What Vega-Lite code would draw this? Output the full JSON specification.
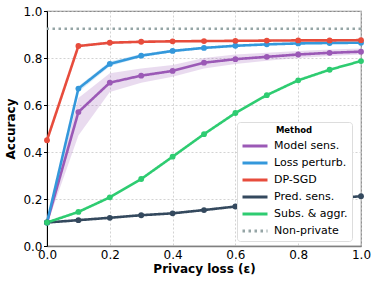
{
  "$schema": "https://vega.github.io/schema/vega-lite/v6.json",
  "width": 314,
  "height": 235,
  "autosize": {"type": "none"},
  "padding": {"left": 47, "top": 11, "right": 17, "bottom": 40},
  "background": "white",
  "config": {
    "font": "DejaVu Sans",
    "view": {"stroke": "#888888", "strokeWidth": 1.2},
    "axis": {
      "labelFont": "DejaVu Sans", "labelFontSize": 12, "labelColor": "black",
      "titleFont": "DejaVu Sans", "titleFontSize": 12, "titleFontWeight": "bold", "titleColor": "black",
      "grid": true, "gridColor": "#c8c8c8", "gridDash": [2, 2], "gridWidth": 0.8,
      "tickColor": "black", "tickSize": 3.5, "domainColor": "black"
    },
    "legend": {
      "labelFont": "DejaVu Sans", "labelFontSize": 11, "labelColor": "black",
      "titleFont": "DejaVu Sans", "titleFontSize": 8.5, "titleFontWeight": "bold", "titleColor": "black"
    }
  },
  "datasets": {
    "series": [
      {"method": "Model sens.", "eps": 0.0, "acc": 0.1, "lo": 0.09, "hi": 0.11},
      {"method": "Model sens.", "eps": 0.1, "acc": 0.57, "lo": 0.47, "hi": 0.63},
      {"method": "Model sens.", "eps": 0.2, "acc": 0.695, "lo": 0.655, "hi": 0.735},
      {"method": "Model sens.", "eps": 0.3, "acc": 0.725, "lo": 0.695, "hi": 0.755},
      {"method": "Model sens.", "eps": 0.4, "acc": 0.745, "lo": 0.72, "hi": 0.77},
      {"method": "Model sens.", "eps": 0.5, "acc": 0.78, "lo": 0.755, "hi": 0.8},
      {"method": "Model sens.", "eps": 0.6, "acc": 0.795, "lo": 0.775, "hi": 0.815},
      {"method": "Model sens.", "eps": 0.7, "acc": 0.805, "lo": 0.788, "hi": 0.822},
      {"method": "Model sens.", "eps": 0.8, "acc": 0.815, "lo": 0.8, "hi": 0.83},
      {"method": "Model sens.", "eps": 0.9, "acc": 0.822, "lo": 0.808, "hi": 0.836},
      {"method": "Model sens.", "eps": 1.0, "acc": 0.827, "lo": 0.815, "hi": 0.84},
      {"method": "Loss perturb.", "eps": 0.0, "acc": 0.1, "lo": 0.095, "hi": 0.105},
      {"method": "Loss perturb.", "eps": 0.1, "acc": 0.67, "lo": 0.655, "hi": 0.68},
      {"method": "Loss perturb.", "eps": 0.2, "acc": 0.775, "lo": 0.765, "hi": 0.785},
      {"method": "Loss perturb.", "eps": 0.3, "acc": 0.81, "lo": 0.803, "hi": 0.817},
      {"method": "Loss perturb.", "eps": 0.4, "acc": 0.83, "lo": 0.824, "hi": 0.836},
      {"method": "Loss perturb.", "eps": 0.5, "acc": 0.843, "lo": 0.838, "hi": 0.848},
      {"method": "Loss perturb.", "eps": 0.6, "acc": 0.852, "lo": 0.848, "hi": 0.856},
      {"method": "Loss perturb.", "eps": 0.7, "acc": 0.858, "lo": 0.854, "hi": 0.862},
      {"method": "Loss perturb.", "eps": 0.8, "acc": 0.862, "lo": 0.858, "hi": 0.866},
      {"method": "Loss perturb.", "eps": 0.9, "acc": 0.864, "lo": 0.86, "hi": 0.868},
      {"method": "Loss perturb.", "eps": 1.0, "acc": 0.865, "lo": 0.861, "hi": 0.869},
      {"method": "DP-SGD", "eps": 0.0, "acc": 0.45, "lo": 0.44, "hi": 0.46},
      {"method": "DP-SGD", "eps": 0.1, "acc": 0.851, "lo": 0.846, "hi": 0.856},
      {"method": "DP-SGD", "eps": 0.2, "acc": 0.865, "lo": 0.861, "hi": 0.869},
      {"method": "DP-SGD", "eps": 0.3, "acc": 0.869, "lo": 0.865, "hi": 0.873},
      {"method": "DP-SGD", "eps": 0.4, "acc": 0.871, "lo": 0.867, "hi": 0.875},
      {"method": "DP-SGD", "eps": 0.5, "acc": 0.872, "lo": 0.868, "hi": 0.876},
      {"method": "DP-SGD", "eps": 0.6, "acc": 0.873, "lo": 0.869, "hi": 0.877},
      {"method": "DP-SGD", "eps": 0.7, "acc": 0.874, "lo": 0.87, "hi": 0.878},
      {"method": "DP-SGD", "eps": 0.8, "acc": 0.875, "lo": 0.871, "hi": 0.879},
      {"method": "DP-SGD", "eps": 0.9, "acc": 0.875, "lo": 0.871, "hi": 0.879},
      {"method": "DP-SGD", "eps": 1.0, "acc": 0.876, "lo": 0.872, "hi": 0.88},
      {"method": "Pred. sens.", "eps": 0.0, "acc": 0.1, "lo": 0.095, "hi": 0.105},
      {"method": "Pred. sens.", "eps": 0.1, "acc": 0.11, "lo": 0.105, "hi": 0.115},
      {"method": "Pred. sens.", "eps": 0.2, "acc": 0.12, "lo": 0.115, "hi": 0.125},
      {"method": "Pred. sens.", "eps": 0.3, "acc": 0.131, "lo": 0.126, "hi": 0.136},
      {"method": "Pred. sens.", "eps": 0.4, "acc": 0.139, "lo": 0.134, "hi": 0.144},
      {"method": "Pred. sens.", "eps": 0.5, "acc": 0.153, "lo": 0.148, "hi": 0.158},
      {"method": "Pred. sens.", "eps": 0.6, "acc": 0.168, "lo": 0.163, "hi": 0.173},
      {"method": "Pred. sens.", "eps": 0.7, "acc": 0.18, "lo": 0.175, "hi": 0.185},
      {"method": "Pred. sens.", "eps": 0.8, "acc": 0.19, "lo": 0.185, "hi": 0.195},
      {"method": "Pred. sens.", "eps": 0.9, "acc": 0.2, "lo": 0.195, "hi": 0.205},
      {"method": "Pred. sens.", "eps": 1.0, "acc": 0.212, "lo": 0.207, "hi": 0.217},
      {"method": "Subs. & aggr.", "eps": 0.0, "acc": 0.1, "lo": 0.095, "hi": 0.105},
      {"method": "Subs. & aggr.", "eps": 0.1, "acc": 0.145, "lo": 0.14, "hi": 0.15},
      {"method": "Subs. & aggr.", "eps": 0.2, "acc": 0.207, "lo": 0.202, "hi": 0.212},
      {"method": "Subs. & aggr.", "eps": 0.3, "acc": 0.285, "lo": 0.28, "hi": 0.29},
      {"method": "Subs. & aggr.", "eps": 0.4, "acc": 0.38, "lo": 0.375, "hi": 0.385},
      {"method": "Subs. & aggr.", "eps": 0.5, "acc": 0.476, "lo": 0.471, "hi": 0.481},
      {"method": "Subs. & aggr.", "eps": 0.6, "acc": 0.566, "lo": 0.561, "hi": 0.571},
      {"method": "Subs. & aggr.", "eps": 0.7, "acc": 0.642, "lo": 0.637, "hi": 0.647},
      {"method": "Subs. & aggr.", "eps": 0.8, "acc": 0.705, "lo": 0.7, "hi": 0.71},
      {"method": "Subs. & aggr.", "eps": 0.9, "acc": 0.75, "lo": 0.745, "hi": 0.755},
      {"method": "Subs. & aggr.", "eps": 1.0, "acc": 0.787, "lo": 0.782, "hi": 0.792}
    ],
    "baseline": [
      {"method": "Non-private", "acc": 0.925}
    ]
  },
  "layer": [
    {
      "data": {"name": "series"},
      "transform": [{"filter": "datum.method === 'Model sens.'"}],
      "mark": {"type": "area", "color": "#9b59b6", "opacity": 0.22},
      "encoding": {
        "x": {"field": "eps", "type": "quantitative"},
        "y": {"field": "lo", "type": "quantitative"},
        "y2": {"field": "hi"}
      }
    },
    {
      "data": {"name": "series"},
      "transform": [{"filter": "datum.method === 'Loss perturb.' || datum.method === 'DP-SGD'"}],
      "mark": {"type": "area", "opacity": 0.25},
      "encoding": {
        "x": {"field": "eps", "type": "quantitative"},
        "y": {"field": "lo", "type": "quantitative"},
        "y2": {"field": "hi"},
        "detail": {"field": "method"},
        "color": {"value": "#5dade2"}
      }
    },
    {
      "data": {"name": "baseline"},
      "mark": {"type": "rule", "strokeWidth": 2.5},
      "encoding": {
        "y": {"field": "acc", "type": "quantitative"},
        "color": {"field": "method", "type": "nominal"},
        "strokeDash": {"field": "method", "type": "nominal"}
      }
    },
    {
      "data": {"name": "series"},
      "mark": {"type": "line", "strokeWidth": 2.6},
      "encoding": {
        "x": {"field": "eps", "type": "quantitative", "scale": {"domain": [0, 1], "nice": false, "padding": 0},
              "axis": {"values": [0, 0.2, 0.4, 0.6, 0.8, 1.0], "format": ".1f", "title": "Privacy loss (ε)", "domainColor": "#808080", "domainWidth": 1.5, "ticks": false, "titlePadding": 3, "labelPadding": 3.5, "labelFlush": false}},
        "y": {"field": "acc", "type": "quantitative", "scale": {"domain": [0, 1], "nice": false, "padding": 0},
              "axis": {"values": [0, 0.2, 0.4, 0.6, 0.8, 1.0], "format": ".1f", "title": "Accuracy", "titlePadding": 5, "labelPadding": 1.5}},
        "strokeDash": {
          "field": "method", "type": "nominal",
          "scale": {
            "domain": ["Model sens.", "Loss perturb.", "DP-SGD", "Pred. sens.", "Subs. & aggr.", "Non-private"],
            "range": [[1, 0], [1, 0], [1, 0], [1, 0], [1, 0], [2.5, 3.5]]
          },
          "legend": {"title": "Method"}
        },
        "color": {
          "field": "method", "type": "nominal",
          "scale": {
            "domain": ["Model sens.", "Loss perturb.", "DP-SGD", "Pred. sens.", "Subs. & aggr.", "Non-private"],
            "range": ["#9b59b6", "#3498db", "#e74c3c", "#34495e", "#2ecc71", "#95a5a6"]
          },
          "legend": {
            "title": "Method", "orient": "none", "legendX": 190, "legendY": 111,
            "symbolType": "M-1,0H4", "symbolSize": 100, "symbolStrokeWidth": 3,
            "titleAnchor": "middle", "rowPadding": 4, "labelOffset": 20, "titlePadding": 5,
            "padding": 4, "fillColor": "white", "strokeColor": "#dddddd", "cornerRadius": 3
          }
        }
      }
    },
    {
      "data": {"name": "series"},
      "mark": {"type": "point", "filled": true, "opacity": 1, "size": 34},
      "encoding": {
        "x": {"field": "eps", "type": "quantitative"},
        "y": {"field": "acc", "type": "quantitative"},
        "color": {"field": "method", "type": "nominal"}
      }
    }
  ]
}
